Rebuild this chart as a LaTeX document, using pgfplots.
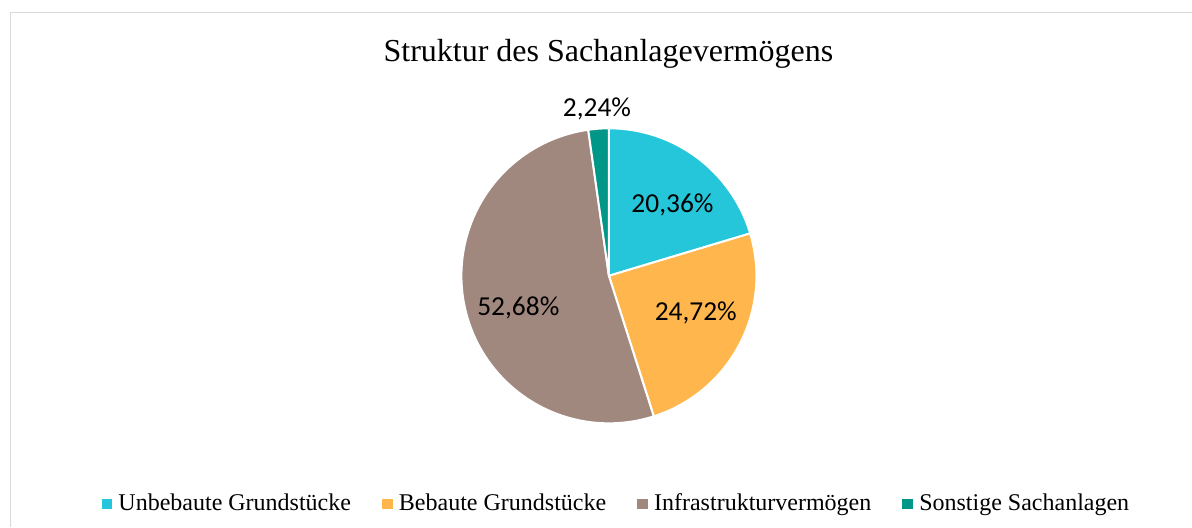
\documentclass[border=0pt]{standalone}
\usepackage{fontspec}
\setmainfont{Liberation Serif}
\newfontfamily\labfont{Carlito}
\usepackage{pgfplots}
\usepackage{pgfplotstable}
\pgfplotsset{compat=1.18}
\definecolor{cUn}{HTML}{26C6DA}
\definecolor{cBe}{HTML}{FFB74D}
\definecolor{cIn}{HTML}{A1887F}
\definecolor{cSo}{HTML}{009688}
\definecolor{frame}{HTML}{D9D9D9}
\pgfplotstableread{
name value
Unbebaute 20.36
Bebaute 24.72
Infra 52.68
Sonstige 2.24
}\piedata
\pgfplotstablegetelem{0}{value}\of\piedata \let\vA\pgfplotsretval
\pgfplotstablegetelem{1}{value}\of\piedata \let\vB\pgfplotsretval
\pgfplotstablegetelem{2}{value}\of\piedata \let\vC\pgfplotsretval
\pgfplotstablegetelem{3}{value}\of\piedata \let\vD\pgfplotsretval
\pgfmathsetmacro\aA{90}
\pgfmathsetmacro\aB{\aA-3.6*\vA}
\pgfmathsetmacro\aC{\aB-3.6*\vB}
\pgfmathsetmacro\aD{\aC-3.6*\vC}
\pgfmathsetmacro\aE{\aD-3.6*\vD}
\begin{document}
\begin{tikzpicture}
\path[use as bounding box] (0pt,0pt) rectangle (596pt,263.5pt);
\draw[color=frame, line width=0.75pt] (5.25pt,0pt) -- (5.25pt,257.25pt) -- (596pt,257.25pt);
\node[anchor=base, inner sep=0pt, font=\fontsize{16}{19}\selectfont] at (304.2pt,232.8pt) {Struktur des Sachanlagevermögens};
\begin{axis}[at={(304.45pt,125.6pt)}, anchor=center,
  width=147.5pt, height=147.5pt, scale only axis, hide axis,
  xmin=-1, xmax=1, ymin=-1, ymax=1, clip=false,
  legend columns=4,
  legend style={at={(0.522,-0.273)}, anchor=center, draw=none, fill=none,
    font=\fontsize{12}{14}\selectfont, inner sep=0pt, nodes={inner sep=0pt},
    /tikz/every odd column/.append style={column sep=3.25pt},
    /tikz/every even column/.append style={column sep=15.5pt}},
]
\addlegendimage{legend image code/.code={\fill[cUn] (0pt,-2.4pt) rectangle (4.8pt,2.4pt);}}
\addlegendentry{Unbebaute Grundstücke}
\addlegendimage{legend image code/.code={\fill[cBe] (0pt,-2.4pt) rectangle (4.8pt,2.4pt);}}
\addlegendentry{Bebaute Grundstücke}
\addlegendimage{legend image code/.code={\fill[cIn] (0pt,-2.4pt) rectangle (4.8pt,2.4pt);}}
\addlegendentry{Infrastrukturvermögen}
\addlegendimage{legend image code/.code={\fill[cSo] (0pt,-2.4pt) rectangle (4.8pt,2.4pt);}}
\addlegendentry{Sonstige Sachanlagen}
\filldraw[fill=cUn, draw=white, line width=1pt, line join=round] (axis cs:0,0) -- (axis cs:{cos(\aA)},{sin(\aA)}) arc[start angle=\aA, end angle=\aB, radius=1] -- cycle;
\filldraw[fill=cBe, draw=white, line width=1pt, line join=round] (axis cs:0,0) -- (axis cs:{cos(\aB)},{sin(\aB)}) arc[start angle=\aB, end angle=\aC, radius=1] -- cycle;
\filldraw[fill=cIn, draw=white, line width=1pt, line join=round] (axis cs:0,0) -- (axis cs:{cos(\aC)},{sin(\aC)}) arc[start angle=\aC, end angle=\aD, radius=1] -- cycle;
\filldraw[fill=cSo, draw=white, line width=1pt, line join=round] (axis cs:0,0) -- (axis cs:{cos(\aD)},{sin(\aD)}) arc[start angle=\aD, end angle=\aE, radius=1] -- cycle;
\node[anchor=base, inner sep=0pt, font=\labfont\fontsize{13.7}{16}\selectfont] at (axis cs:0.431,0.428) {20,36\%};
\node[anchor=base, inner sep=0pt, font=\labfont\fontsize{13.7}{16}\selectfont] at (axis cs:0.589,-0.304) {24,72\%};
\node[anchor=base, inner sep=0pt, font=\labfont\fontsize{13.7}{16}\selectfont] at (axis cs:-0.614,-0.266) {52,68\%};
\node[anchor=base, inner sep=0pt, font=\labfont\fontsize{13.7}{16}\selectfont] at (axis cs:-0.081,1.083) {2,24\%};
\end{axis}
\end{tikzpicture}
\end{document}
